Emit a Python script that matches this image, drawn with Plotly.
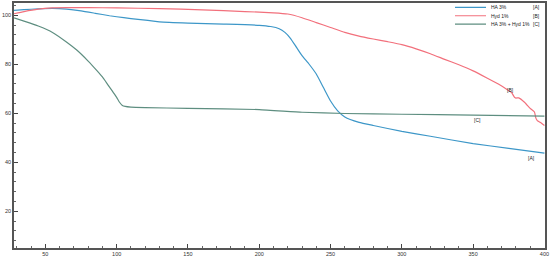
import plotly.graph_objects as go

# Series A: HA 3%
a_x = [28, 35, 45, 55, 65, 75, 85, 95, 105, 115, 130, 150, 175, 200, 208, 214, 218, 222, 226, 230,
       235, 240, 245, 250, 255, 260, 270, 280, 300, 320, 350, 375, 400]
a_y = [102, 102.3, 102.6, 102.8, 102.5, 101.8, 100.8, 99.8, 99, 98.3, 97.3, 96.8, 96.4, 95.9, 95.4,
       94.5, 93, 90.5, 87, 83.5, 80, 76, 70.5, 65, 61, 58.5, 56.3, 55, 52.6, 50.6, 47.6, 45.7, 43.7]

# Series B: Hyd 1%
b_x = [28, 35, 45, 55, 65, 80, 100, 130, 160, 190, 210, 220, 230, 240, 250, 260, 270, 280, 290, 300,
       310, 320, 330, 340, 350, 360, 368, 374, 377, 379, 380, 382, 386, 390, 393, 394, 395, 397, 400]
b_y = [100.6, 101.5, 102.5, 103, 103.1, 103.1, 103, 102.7, 102.2, 101.5, 101, 100.5, 99, 97, 95, 93,
       91.5, 90.3, 89.2, 88, 86.3, 84.3, 82, 79.8, 77.3, 74.3, 71.8, 69.6, 68.4, 66.5, 66.2, 66.3, 64.5,
       62, 60.5, 58, 57, 56.3, 55]

# Series C: HA 3% + Hyd 1%
c_x = [28, 35, 45, 55, 65, 72, 80, 86, 90, 94, 97, 100, 102, 104, 106, 110, 120, 150, 200, 230, 260,
       300, 350, 400]
c_y = [98.9, 97.6, 95.6, 93, 89, 85.8, 81.3, 77.5, 74.8, 71.5, 69, 66.5, 64.5, 63.2, 62.8, 62.5, 62.3,
       62, 61.5, 60.4, 59.9, 59.6, 59.2, 58.8]

names = ["HA 3%", "Hyd 1%", "HA 3% + Hyd 1%"]
tags = ["[A]", "[B]", "[C]"]
colors = ["#3d97c8", "#f2707c", "#5e8e80"]
# label positions (data coords) for the in-plot tags
tag_x = [391, 376, 353]
tag_y = [41.6, 69.5, 57.1]

xs = [a_x, b_x, c_x]
ys = [a_y, b_y, c_y]

FONT = "Liberation Sans"

fig = go.Figure()
for i in range(3):
    fig.add_trace(go.Scatter(x=xs[i], y=ys[i], mode="lines", name=names[i],
                             line=dict(color=colors[i], width=1.2, shape="spline", smoothing=0.4),
                             showlegend=False))
    fig.add_annotation(x=tag_x[i], y=tag_y[i], text=tags[i], showarrow=False,
                       font=dict(size=5, color="#222", family=FONT))

# manual compact legend
row_y = [0.982, 0.948, 0.914]
for i in range(3):
    fig.add_shape(type="line", xref="paper", yref="paper", x0=0.8305, x1=0.8889,
                  y0=row_y[i], y1=row_y[i], line=dict(color=colors[i], width=1.2))
    fig.add_annotation(xref="paper", yref="paper", x=0.8945, y=row_y[i], text=names[i],
                       xanchor="left", yanchor="middle", showarrow=False,
                       font=dict(size=5, color="#222", family=FONT))
    fig.add_annotation(xref="paper", yref="paper", x=0.994, y=row_y[i], text=tags[i],
                       xanchor="right", yanchor="middle", showarrow=False,
                       font=dict(size=5, color="#222", family=FONT))

axis_common = dict(showgrid=False, zeroline=False, showline=True, mirror=True,
                   linecolor="#555", linewidth=1.5, ticks="inside", ticklen=4, tickcolor="#444",
                   tickfont=dict(size=5.5, color="#333", family=FONT), automargin=False)

fig.update_xaxes(range=[28, 400.4], tickvals=[50, 100, 150, 200, 250, 300, 350, 400],
                 minor=dict(ticks="inside", ticklen=2, dtick=10, tick0=0, tickcolor="#666"),
                 **axis_common)
fig.update_yaxes(range=[5, 105], tickvals=[20, 40, 60, 80, 100],
                 minor=dict(ticks="inside", ticklen=2, dtick=4, tick0=0, tickcolor="#666"),
                 **axis_common)

fig.update_layout(width=550, height=258, margin=dict(l=14, r=5, t=3, b=10),
                  plot_bgcolor="white", paper_bgcolor="white")
fig.write_html("out.html", config={"displayModeBar": False},
               post_script="document.body.style.margin='0';document.body.style.overflow='hidden';")
